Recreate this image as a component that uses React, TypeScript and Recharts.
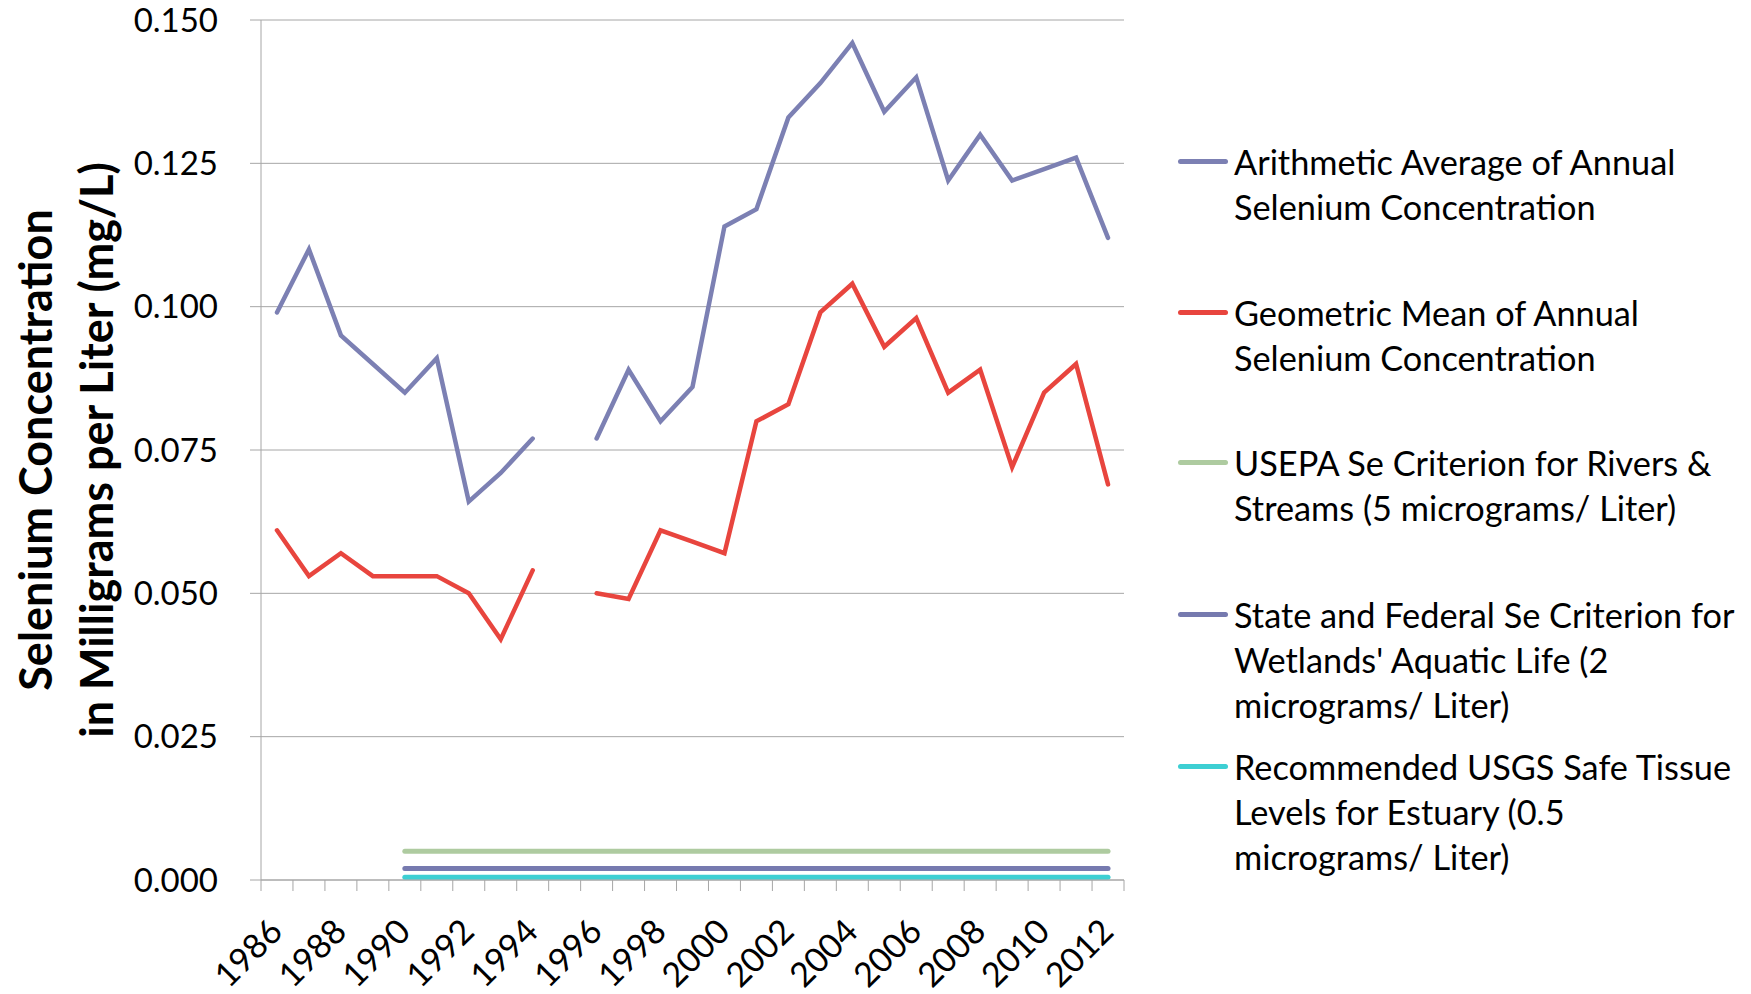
import React from 'react';
import { LineChart, Line, XAxis, YAxis, CartesianGrid, Label } from 'recharts';

const years = [
  1986, 1987, 1988, 1989, 1990, 1991, 1992, 1993, 1994, 1995, 1996, 1997, 1998, 1999,
  2000, 2001, 2002, 2003, 2004, 2005, 2006, 2007, 2008, 2009, 2010, 2011, 2012,
];

// mg/L, 1995 has no data
const arithmeticAverage = [
  0.099, 0.110, 0.095, 0.090, 0.085, 0.091, 0.066, 0.071, 0.077, null, 0.077, 0.089, 0.080, 0.086,
  0.114, 0.117, 0.133, 0.139, 0.146, 0.134, 0.140, 0.122, 0.130, 0.122, 0.124, 0.126, 0.112,
];
const geometricMean = [
  0.061, 0.053, 0.057, 0.053, 0.053, 0.053, 0.050, 0.042, 0.054, null, 0.050, 0.049, 0.061, 0.059,
  0.057, 0.080, 0.083, 0.099, 0.104, 0.093, 0.098, 0.085, 0.089, 0.072, 0.085, 0.090, 0.069,
];

// criteria are drawn from 1990 onwards
const criterionStartYear = 1990;
const usepaCriterion = 0.005;
const wetlandsCriterion = 0.002;
const usgsTissueLevel = 0.0005;

const yTicks = [0, 0.025, 0.05, 0.075, 0.1, 0.125, 0.15];

const series = [
  { key: 'arith', color: '#7C80B3', width: 4.5, lines: ['Arithmetic Average of Annual', 'Selenium Concentration'] },
  { key: 'geo', color: '#E8453E', width: 4.5, lines: ['Geometric Mean of Annual', 'Selenium Concentration'] },
  { key: 'usepa', color: '#AECBA0', width: 5, lines: ['USEPA Se  Criterion for Rivers &', 'Streams (5 micrograms/ Liter)'] },
  { key: 'wetlands', color: '#767AAF', width: 5, lines: ["State and Federal Se Criterion for", "Wetlands' Aquatic Life (2", 'micrograms/ Liter)'] },
  { key: 'usgs', color: '#3DCFD3', width: 5, lines: ['Recommended USGS Safe Tissue', 'Levels for Estuary (0.5', 'micrograms/ Liter)'] },
];

const legendTops = [139, 290, 440, 592, 744];

const data = years.map((year, i) => ({
  year,
  arith: arithmeticAverage[i],
  geo: geometricMean[i],
  usepa: year >= criterionStartYear ? usepaCriterion : null,
  wetlands: year >= criterionStartYear ? wetlandsCriterion : null,
  usgs: year >= criterionStartYear ? usgsTissueLevel : null,
}));

// tick marks sit between years, labels on even years
const tickMarks = [...years.map((y) => y - 0.5), years[years.length - 1] + 0.5];
const labelYears = years.filter((y) => y % 2 === 0);
const xTicks = [...tickMarks, ...labelYears].sort((a, b) => a - b);

const FONT = 'Lato, "Open Sans", sans-serif';
const GRID = '#A6A6A6';

const YearTick = (props: any) => {
  const { x, y, payload } = props;
  const v = payload.value;
  if (!Number.isInteger(v)) {
    return <line x1={x} x2={x} y1={y} y2={y + 11} stroke={GRID} strokeWidth={1} />;
  }
  const ax = x - 2;
  const ay = y + 44;
  return (
    <text
      x={ax}
      y={ay}
      transform={`rotate(-45, ${ax}, ${ay})`}
      textAnchor="end"
      dominantBaseline="central"
      fontFamily={FONT}
      fontSize={34}
      fill="#000"
    >
      {v}
    </text>
  );
};

const AxisTitle = (props: any) => {
  const { viewBox } = props;
  const cy = viewBox.y + viewBox.height / 2;
  return (
    <g fontFamily={FONT} fontWeight="bold" fontSize={45} fill="#000" textAnchor="middle">
      <text x={35} y={cy} transform={`rotate(-90, 35, ${cy})`} dominantBaseline="central">
        Selenium Concentration
      </text>
      <text x={96} y={cy} transform={`rotate(-90, 96, ${cy})`} dominantBaseline="central">
        in Milligrams per Liter (mg/L)
      </text>
    </g>
  );
};

const App: React.FC = () => {
  return (
    <div style={{ position: 'relative', width: 1751, height: 994, background: '#fff' }}>
      <style>{'body{margin:0}'}</style>
      <LineChart width={1751} height={994} data={data} margin={{ top: 20, right: 627, bottom: 0, left: 0 }}>
        <CartesianGrid horizontal vertical={false} stroke={GRID} strokeWidth={1} />
        <XAxis
          dataKey="year"
          type="number"
          domain={[1985.5, 2012.5]}
          ticks={xTicks}
          interval={0}
          height={114}
          tickLine={false}
          tickSize={0}
          tickMargin={0}
          axisLine={{ stroke: GRID, strokeWidth: 1 }}
          tick={<YearTick />}
        />
        <YAxis
          domain={[0, 0.15]}
          ticks={yTicks}
          interval={0}
          width={261}
          tickSize={11}
          tickMargin={32}
          tickFormatter={(v: number) => v.toFixed(3)}
          tick={{ fontFamily: FONT, fontSize: 33, fill: '#000' }}
          tickLine={{ stroke: GRID }}
          axisLine={{ stroke: GRID }}
        >
          <Label content={<AxisTitle />} />
        </YAxis>
        {series.map((s) => (
          <Line
            key={s.key}
            dataKey={s.key}
            type="linear"
            stroke={s.color}
            strokeWidth={s.width}
            strokeLinecap="round"
            dot={false}
            activeDot={false}
            isAnimationActive={false}
          />
        ))}
      </LineChart>
      {series.map((s, i) => (
        <div
          key={s.key}
          style={{
            position: 'absolute',
            left: 1178,
            top: legendTops[i],
            fontFamily: FONT,
            fontSize: 34.3,
            lineHeight: '45px',
            color: '#000',
            whiteSpace: 'nowrap',
          }}
        >
          <div
            style={{
              position: 'absolute',
              left: 0,
              top: 20,
              width: 50,
              height: 5,
              borderRadius: 3,
              background: s.color,
            }}
          />
          <div style={{ marginLeft: 56 }}>
            {s.lines.map((l, j) => (
              <div key={j}>{l}</div>
            ))}
          </div>
        </div>
      ))}
    </div>
  );
};

export default App;
